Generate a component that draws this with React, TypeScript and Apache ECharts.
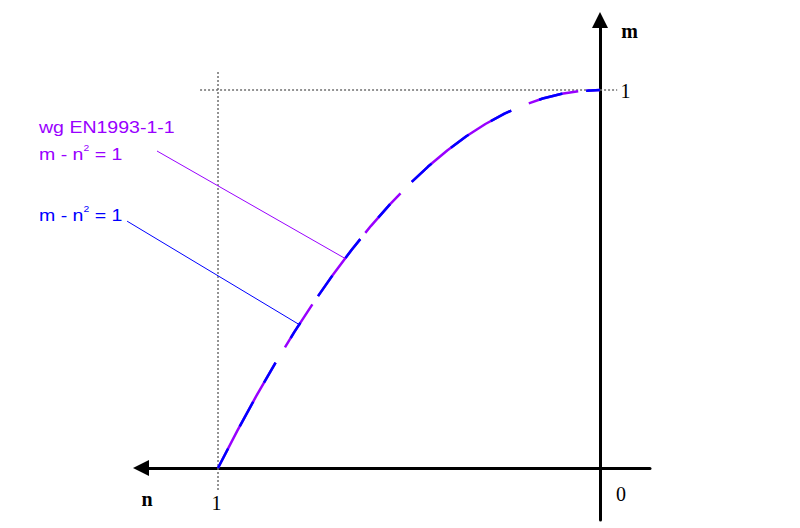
import React, { useEffect, useRef } from "react";
import * as echarts from "echarts";

// Interaction curve: n (axial) vs m (bending)
const nValues = [1, 0.95, 0.9, 0.85, 0.8, 0.75, 0.7, 0.65, 0.6, 0.55, 0.5, 0.45, 0.4, 0.35, 0.3, 0.25, 0.2, 0.15, 0.1, 0.05, 0];
const mEurocode = [0, 0.0975, 0.19, 0.2775, 0.36, 0.4375, 0.51, 0.5775, 0.64, 0.6975, 0.75, 0.7975, 0.84, 0.8775, 0.91, 0.9375, 0.96, 0.9775, 0.99, 0.9975, 1];
const mSimple = [0, 0.0975, 0.19, 0.2775, 0.36, 0.4375, 0.51, 0.5775, 0.64, 0.6975, 0.75, 0.7975, 0.84, 0.8775, 0.91, 0.9375, 0.96, 0.9775, 0.99, 0.9975, 1];

const seriesNames = ["wg EN1993-1-1", "m - n² = 1"];
const xTickLabels = ["1", "0"];
const yTickLabels = ["1"];
const axisNames = ["n", "m"];

// guide lines and leaders, in data units [n, m]
const guideVertical = [[1, -0.058], [1, 1.048]];
const guideHorizontal = [[1.047, 1], [-0.045, 1]];
const leaderPurple = [[1.1597, 0.8386], [0.665, 0.553]];
const leaderBlue = [[1.238, 0.653], [0.785, 0.378]];

const PURPLE = "#9900ff";
const BLUE = "#0000ff";

const purpleDash = [120, 18, 51, 10, 71, 8, 53, 16, 123, 19, 51, 8, 20, 10];
const blueDash = [22, 25, 28, 22, 23, 29, 18, 32, 25, 22, 24, 28, 18, 31, 27, 25, 22, 26, 23, 30, 24, 24, 14, 10];

export default function App() {
  const ref = useRef<HTMLDivElement>(null);

  useEffect(() => {
    const el = ref.current!;
    const chart = echarts.init(el, null, { renderer: "svg", width: 800, height: 528 });
    const axisLine = (symbol: string[]) => ({
      show: true,
      onZero: true,
      symbol,
      symbolSize: [16, 16],
      lineStyle: { color: "#000", width: 3 },
    });
    chart.setOption({
      animation: false,
      backgroundColor: "#ffffff",
      grid: { left: 141, right: 150, top: 20, bottom: 8, containLabel: false, outerBoundsMode: "none" },
      xAxis: {
        type: "value",
        min: -0.1309,
        max: 1.2016,
        inverse: true,
        axisLine: axisLine(["triangle", "none"]),
        axisTick: { show: false },
        axisLabel: { show: false },
        splitLine: { show: false },
      },
      yAxis: {
        type: "value",
        min: -0.1376,
        max: 1.1852,
        axisLine: axisLine(["none", "triangle"]),
        axisTick: { show: false },
        axisLabel: { show: false },
        splitLine: { show: false },
      },
      series: [
        {
          type: "line",
          name: seriesNames[0],
          data: nValues.map((n, i) => [n, mEurocode[i]]),
          symbol: "none",
          showSymbol: false,
          silent: true,
          z: 3,
          lineStyle: { color: PURPLE, width: 2.5, type: purpleDash, cap: "butt" },
        },
        {
          type: "line",
          name: seriesNames[1],
          data: nValues.map((n, i) => [n, mSimple[i]]),
          symbol: "none",
          showSymbol: false,
          silent: true,
          z: 4,
          lineStyle: { color: BLUE, width: 2.5, type: blueDash, cap: "butt" },
        },
      ],
    });

    const px = (p: number[]) => chart.convertToPixel({ gridIndex: 0 }, p) as number[];
    const seg = (pts: number[][], stroke: string, lineWidth: number, lineDash?: number[]) => {
      const a = px(pts[0]);
      const b = px(pts[1]);
      return {
        type: "line",
        silent: true,
        z: 2,
        shape: { x1: a[0], y1: a[1], x2: b[0], y2: b[1] },
        style: { stroke, lineWidth, lineDash: lineDash || null },
      };
    };
    const origin = px([0, 0]);
    const nOne = px([1, 0]);
    const mOne = px([0, 1]);
    const serif = (size: number, bold = false) => `${bold ? "bold " : ""}${size}px "Liberation Serif", "Times New Roman", serif`;
    const tick = (text: string, x: number, y: number, bold = false) => ({
      type: "text",
      x,
      y,
      silent: true,
      style: { text, fill: "#000", font: serif(20, bold), align: "center", verticalAlign: "middle" },
    });
    const sans = '17px "Liberation Sans", Arial, sans-serif';
    const label = (text: string, y: number, color: string, rich = false) => ({
      type: "text",
      x: 39,
      y,
      scaleX: 1.15,
      silent: true,
      style: rich
        ? {
            text: "{a|m - n}{s|2}{a| = 1}",
            fill: color,
            align: "left",
            verticalAlign: "middle",
            rich: {
              a: { font: sans, fill: color, lineHeight: 22, verticalAlign: "middle" },
              s: { font: '9px "Liberation Sans", Arial, sans-serif', fill: color, verticalAlign: "top" },
            },
          }
        : { text, fill: color, font: sans, align: "left", verticalAlign: "middle" },
    });

    chart.setOption({
      graphic: [
        seg(guideVertical, "#707070", 1.5, [2, 2]),
        seg(guideHorizontal, "#707070", 1.5, [2, 2]),
        seg(leaderPurple, PURPLE, 1),
        seg(leaderBlue, BLUE, 1),
        tick(xTickLabels[0], nOne[0] - 1.5, nOne[1] + 35.5),
        tick(xTickLabels[1], origin[0] + 21, origin[1] + 26.5),
        tick(yTickLabels[0], mOne[0] + 25.5, mOne[1] + 0.5),
        tick(axisNames[0], 147, origin[1] + 31, true),
        tick(axisNames[1], origin[0] + 29.5, 31, true),
        label(seriesNames[0], 127, PURPLE),
        label(seriesNames[1], 154, PURPLE, true),
        label(seriesNames[1], 215, BLUE, true),
      ],
    });

    return () => chart.dispose();
  }, []);

  return (
    <div
      ref={ref}
      style={{ position: "absolute", left: 0, top: 0, width: 800, height: 528, background: "#fff" }}
    />
  );
}
